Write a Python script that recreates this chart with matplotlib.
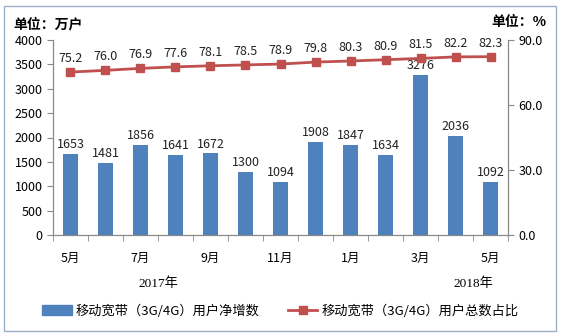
import matplotlib
matplotlib.use("Agg")
import matplotlib.pyplot as plt
from matplotlib.patches import Rectangle
from matplotlib.lines import Line2D

plt.rcParams['font.family'] = ['Noto Sans CJK SC', 'DejaVu Sans']

months = ['5月', '6月', '7月', '8月', '9月', '10月', '11月', '12月', '1月', '2月', '3月', '4月', '5月']
tick_labels = ['5月', '', '7月', '', '9月', '', '11月', '', '1月', '', '3月', '', '5月']
net_add = [1653, 1481, 1856, 1641, 1672, 1300, 1094, 1908, 1847, 1634, 3276, 2036, 1092]
share = [75.2, 76.0, 76.9, 77.6, 78.1, 78.5, 78.9, 79.8, 80.3, 80.9, 81.5, 82.2, 82.3]
years = ['2017年', '2018年']
legend_labels = ['移动宽带（3G/4G）用户净增数', '移动宽带（3G/4G）用户总数占比']

W, H = 561, 334
fig = plt.figure(figsize=(W / 100, H / 100), dpi=100)
ax = fig.add_axes([53 / W, 1 - 235 / H, (508 - 53) / W, (235 - 40) / H])
ax2 = ax.twinx()

bar_color = '#4F81BD'
line_color = '#C0504D'
x = list(range(len(months)))
ax.bar(x, net_add, width=0.45, color=bar_color, zorder=2)
for xi, v in zip(x, net_add):
    ax.text(xi, v + 60, str(v), ha='center', va='bottom', fontsize=9, color='#222222')

ax.set_ylim(0, 4000)
ax.set_yticks(range(0, 4001, 500))
ax.set_xlim(-0.5, len(months) - 0.5)
ax.set_xticks(x)
ax.set_xticklabels(tick_labels, fontsize=9)
ax.tick_params(axis='x', length=0, pad=12)
ax.set_xticks([i - 0.5 for i in range(len(months) + 1)], minor=True)
ax.tick_params(axis='x', which='minor', length=4, color='#888888')
ax.tick_params(axis='y', labelsize=9, length=4, color='#888888')

ax2.plot(x, share, color=line_color, lw=2, marker='s', ms=6, zorder=3)
for xi, v in zip(x, share):
    ax2.text(xi, v + 3.2, f'{v:.1f}', ha='center', va='bottom', fontsize=9, color='#222222')
ax2.set_ylim(0, 90)
ax2.set_yticks([0, 30, 60, 90])
ax2.set_yticklabels(['0.0', '30.0', '60.0', '90.0'])
ax2.tick_params(axis='y', labelsize=9, length=4, color='#888888')

for a in (ax, ax2):
    a.spines['top'].set_visible(False)
    for s in ['left', 'right', 'bottom']:
        a.spines[s].set_color('#888888')

# year labels
ax.text(2.5, -0.25, years[0], transform=ax.get_xaxis_transform(), ha='center', va='center',
        fontsize=9.5, family=['Liberation Serif', 'Noto Sans CJK SC'])
ax.text(11.5, -0.25, years[1], transform=ax.get_xaxis_transform(), ha='center', va='center',
        fontsize=9.5, family=['Liberation Serif', 'Noto Sans CJK SC'])

# unit labels
fig.text(13 / W, 1 - 24 / H, '单位：万户', fontsize=10, fontweight='bold', va='center', ha='left')
fig.text(546 / W, 1 - 22 / H, '单位：%', fontsize=10, fontweight='bold', va='center', ha='right')

# legend
handles = [Rectangle((0, 0), 1, 1, color=bar_color),
           Line2D([0], [0], color=line_color, lw=2, marker='s', ms=6)]
fig.legend(handles, legend_labels, loc='center', bbox_to_anchor=(0.5, 1 - 311 / H), ncol=2,
           frameon=False, fontsize=9.5, handlelength=2.2, columnspacing=2.2, handletextpad=0.3)

# border
fig.patches.append(Rectangle((4 / W, 3 / H), (W - 9) / W, (H - 9) / H, transform=fig.transFigure,
                             fill=False, edgecolor='#9AAFC8', lw=1))

fig.savefig('out.png', dpi=100)
